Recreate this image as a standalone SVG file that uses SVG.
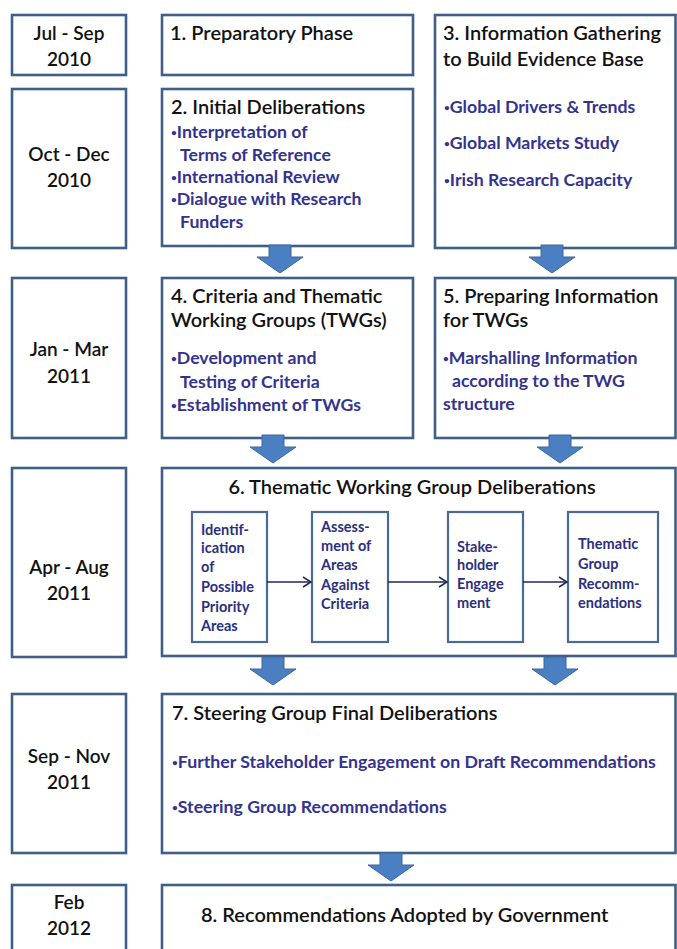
<svg xmlns="http://www.w3.org/2000/svg" width="677" height="949" viewBox="0 0 677 949">
<style>
.box{fill:#fff;stroke:#3f5f87;stroke-width:2.6}
.ibox{fill:#fff;stroke:#4a6b93;stroke-width:2.2}
.date{font-family:Lato,"Liberation Sans",sans-serif;font-size:19px;font-weight:600;fill:#111;text-anchor:middle}
.ttl{font-family:Lato,"Liberation Sans",sans-serif;font-size:20px;font-weight:600;fill:#111}
.bl{font-family:Lato,"Liberation Sans",sans-serif;font-size:17.7px;font-weight:700;fill:#33338f}
.b{font-size:10px}
.in{font-family:Lato,"Liberation Sans",sans-serif;font-size:14.5px;font-weight:700;fill:#2b2f80}
.blk{fill:#4a7fc1;stroke:#3a67a0;stroke-width:1}
.ln{stroke:#1f2a55;stroke-width:1.5;fill:none;marker-end:url(#ah)}
</style>
<defs>
<path id="blkarrow" class="blk" d="M-11,0 H11 V12 H23 L0,28 L-23,12 H-11 Z"/>
<marker id="ah" markerWidth="10" markerHeight="12" refX="9" refY="6" orient="auto" markerUnits="userSpaceOnUse">
<path d="M1,1 L9,6 L1,11" fill="none" stroke="#1f2a55" stroke-width="1.5"/>
</marker>
</defs>
<rect width="677" height="949" fill="#fff"/>

<g id="d1"><rect class="box" x="12" y="15" width="114" height="60"/>
<text class="date" x="69" y="40">Jul - Sep</text><text class="date" x="69" y="66">2010</text></g>
<g id="p1"><rect class="box" x="162" y="15" width="251" height="60"/>
<text class="ttl" x="170" y="40">1. Preparatory Phase</text></g>
<g id="p3"><rect class="box" x="435" y="15" width="240.5" height="233"/>
<text class="ttl" x="443" y="40">3. Information Gathering</text>
<text class="ttl" x="443" y="66">to Build Evidence Base</text>
<text class="bl" x="444" y="113"><tspan class="b" dy="-2">•</tspan><tspan dy="2">Global Drivers &amp; Trends</tspan></text>
<text class="bl" x="444" y="149"><tspan class="b" dy="-2">•</tspan><tspan dy="2">Global Markets Study</tspan></text>
<text class="bl" x="444" y="186"><tspan class="b" dy="-2">•</tspan><tspan dy="2">Irish Research Capacity</tspan></text></g>

<g id="d2"><rect class="box" x="12" y="89" width="114" height="159"/>
<text class="date" x="69" y="161">Oct - Dec</text><text class="date" x="69" y="187">2010</text></g>
<g id="p2"><rect class="box" x="162" y="89" width="251" height="157"/>
<text class="ttl" x="171" y="114">2. Initial Deliberations</text>
<text class="bl" x="171" y="138"><tspan class="b" dy="-2">•</tspan><tspan dy="2">Interpretation of</tspan></text>
<text class="bl" x="180" y="161">Terms of Reference</text>
<text class="bl" x="171" y="183"><tspan class="b" dy="-2">•</tspan><tspan dy="2">International Review</tspan></text>
<text class="bl" x="171" y="205"><tspan class="b" dy="-2">•</tspan><tspan dy="2">Dialogue with Research</tspan></text>
<text class="bl" x="180" y="228">Funders</text></g>

<g id="d3"><rect class="box" x="12" y="278" width="114" height="160"/>
<text class="date" x="69" y="356">Jan - Mar</text><text class="date" x="69" y="383">2011</text></g>
<g id="p4"><rect class="box" x="162" y="278" width="251" height="160"/>
<text class="ttl" x="171" y="303">4. Criteria and Thematic</text>
<text class="ttl" x="171" y="327">Working Groups (TWGs)</text>
<text class="bl" x="171" y="364"><tspan class="b" dy="-2">•</tspan><tspan dy="2">Development and</tspan></text>
<text class="bl" x="180" y="388">Testing of Criteria</text>
<text class="bl" x="171" y="411"><tspan class="b" dy="-2">•</tspan><tspan dy="2">Establishment of TWGs</tspan></text></g>
<g id="p5"><rect class="box" x="435" y="278" width="240.5" height="160"/>
<text class="ttl" x="443" y="303">5. Preparing Information</text>
<text class="ttl" x="443" y="327">for TWGs</text>
<text class="bl" x="443" y="364"><tspan class="b" dy="-2">•</tspan><tspan dy="2">Marshalling Information</tspan></text>
<text class="bl" x="452" y="387">according to the TWG</text>
<text class="bl" x="443" y="410">structure</text></g>

<g id="d4"><rect class="box" x="12" y="468" width="114" height="189"/>
<text class="date" x="69" y="574">Apr - Aug</text><text class="date" x="69" y="600">2011</text></g>
<g id="p6"><rect class="box" x="162" y="468" width="513.5" height="188"/>
<text class="ttl" x="412" y="494" text-anchor="middle">6. Thematic Working Group Deliberations</text></g>
<g id="s1"><rect class="ibox" x="192" y="512" width="75" height="130"/>
<text class="in" x="201" y="535">Identif-</text><text class="in" x="201" y="553">ication</text><text class="in" x="201" y="572">of</text><text class="in" x="201" y="592">Possible</text><text class="in" x="201" y="612">Priority</text><text class="in" x="201" y="631">Areas</text></g>
<g id="s2"><rect class="ibox" x="312" y="512" width="76" height="130"/>
<text class="in" x="321" y="532">Assess-</text><text class="in" x="321" y="551">ment of</text><text class="in" x="321" y="570">Areas</text><text class="in" x="321" y="590">Against</text><text class="in" x="321" y="609">Criteria</text></g>
<g id="s3"><rect class="ibox" x="448" y="512" width="75" height="130"/>
<text class="in" x="457" y="552">Stake-</text><text class="in" x="457" y="570">holder</text><text class="in" x="457" y="589">Engage</text><text class="in" x="457" y="608">ment</text></g>
<g id="s4"><rect class="ibox" x="568" y="512" width="90" height="130"/>
<text class="in" x="578" y="549">Thematic</text><text class="in" x="578" y="569">Group</text><text class="in" x="578" y="589">Recomm-</text><text class="in" x="578" y="608">endations</text></g>

<g id="d5"><rect class="box" x="12" y="694" width="114" height="159"/>
<text class="date" x="69" y="763">Sep - Nov</text><text class="date" x="69" y="789">2011</text></g>
<g id="p7"><rect class="box" x="162" y="694" width="513.5" height="159"/>
<text class="ttl" x="172" y="720">7. Steering Group Final Deliberations</text>
<text class="bl" x="172" y="768"><tspan class="b" dy="-2">•</tspan><tspan dy="2">Further Stakeholder Engagement on Draft Recommendations</tspan></text>
<text class="bl" x="172" y="813"><tspan class="b" dy="-2">•</tspan><tspan dy="2">Steering Group Recommendations</tspan></text></g>

<g id="d6"><rect class="box" x="12" y="885" width="114" height="80"/>
<text class="date" x="69" y="909">Feb</text><text class="date" x="69" y="935">2012</text></g>
<g id="p8"><rect class="box" x="162" y="885" width="513.5" height="80"/>
<text class="ttl" x="201" y="922">8. Recommendations Adopted by Government</text></g>

<g id="connectors">
<use href="#blkarrow" transform="translate(280,245)"/>
<use href="#blkarrow" transform="translate(552,245)"/>
<use href="#blkarrow" transform="translate(273,435)"/>
<use href="#blkarrow" transform="translate(560,435)"/>
<use href="#blkarrow" transform="translate(273,657)"/>
<use href="#blkarrow" transform="translate(555,657)"/>
<use href="#blkarrow" transform="translate(391,853)"/>
<line class="ln" x1="267" y1="582" x2="311" y2="582"/>
<line class="ln" x1="388" y1="582" x2="447" y2="582"/>
<line class="ln" x1="523" y1="582" x2="567" y2="582"/>
</g>
</svg>
